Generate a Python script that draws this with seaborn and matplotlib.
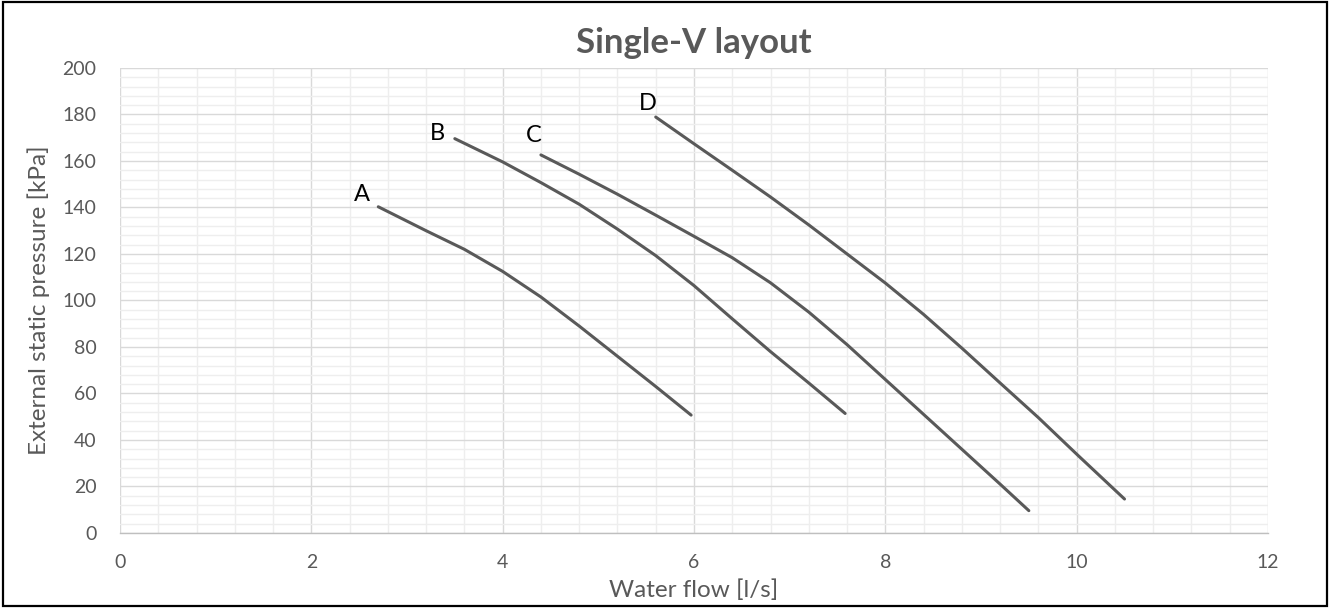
import numpy as np
import pandas as pd
import matplotlib
matplotlib.use("Agg")
import matplotlib.pyplot as plt
from matplotlib.patches import Rectangle
from matplotlib.ticker import MultipleLocator
import seaborn as sns

# pump curves: water flow [l/s] vs pressure [kPa]
flow_a = [2.7, 3.2, 3.6, 4.0, 4.4, 4.8, 5.2, 5.6, 5.97]
pres_a = [140.3, 130.0, 122.0, 112.5, 101.5, 89.0, 76.0, 63.0, 50.7]

flow_b = [3.5, 4.0, 4.4, 4.8, 5.2, 5.6, 6.0, 6.4, 6.8, 7.2, 7.58]
pres_b = [169.6, 159.6, 150.7, 141.4, 130.7, 119.3, 106.4, 92.1, 78.0, 64.5, 51.4]

flow_c = [4.4, 4.8, 5.2, 5.6, 6.0, 6.4, 6.8, 7.2, 7.6, 8.0, 8.4, 8.8, 9.2, 9.5]
pres_c = [162.6, 154.3, 145.7, 136.7, 127.6, 118.4, 107.6, 95.0, 81.0, 66.0, 51.0, 36.0, 21.0, 9.6]

flow_d = [5.6, 6.0, 6.4, 6.8, 7.2, 7.6, 8.0, 8.4, 8.8, 9.2, 9.6, 10.0, 10.5]
pres_d = [178.9, 167.4, 156.0, 144.5, 132.5, 120.0, 107.5, 94.0, 79.5, 64.5, 49.6, 33.9, 14.6]

curve_names = ["A", "B", "C", "D"]
curves = [(flow_a, pres_a), (flow_b, pres_b), (flow_c, pres_c), (flow_d, pres_d)]

rows = []
for name, (fx, py) in zip(curve_names, curves):
    for x, y in zip(fx, py):
        rows.append({"curve": name, "flow": x, "pressure": y})
df = pd.DataFrame(rows)

sns.set_theme(style="white")
plt.rcParams["font.family"] = ["Lato", "DejaVu Sans"]

txt = "#595959"
fig = plt.figure(figsize=(13.3, 6.08), dpi=100)
ax = fig.add_axes([0.0902, 0.1234, 0.8632, 0.7648])

sns.lineplot(data=df, x="flow", y="pressure", hue="curve",
             estimator=None, sort=False, legend=False, ax=ax,
             palette=["#595959"] * 4, linewidth=2.2)
for ln in ax.lines:
    ln.set_solid_joinstyle("round")
    ln.set_solid_capstyle("round")

ax.set_xlim(0, 12)
ax.set_ylim(0, 200)
ax.xaxis.set_major_locator(MultipleLocator(2))
ax.xaxis.set_minor_locator(MultipleLocator(0.4))
ax.yaxis.set_major_locator(MultipleLocator(20))
ax.yaxis.set_minor_locator(MultipleLocator(4))
ax.grid(which="minor", color="#eeeeee", linewidth=1.0)
ax.grid(which="major", color="#d9d9d9", linewidth=1.0)
ax.set_axisbelow(True)
for s in ["top", "right", "left"]:
    ax.spines[s].set_visible(False)
ax.spines["bottom"].set_color("#bfbfbf")
ax.spines["bottom"].set_linewidth(1.0)
ax.tick_params(which="both", length=0, labelsize=14, labelcolor=txt)
ax.tick_params(axis="y", pad=17)
ax.tick_params(axis="x", pad=15)

ax.set_xlabel("Water flow [l/s]", fontsize=17.5, color=txt, labelpad=6)
ax.set_ylabel("External static pressure [kPa]", fontsize=17.5, color=txt, labelpad=9)
ax.set_title("Single-V layout", fontsize=25, fontweight="bold", color=txt, pad=11)

offsets = [(-16, 12), (-17, 5), (-7, 19), (-8, 14)]
for name, (fx, py), off in zip(curve_names, curves, offsets):
    ax.annotate(name, xy=(fx[0], py[0]), xytext=off, textcoords="offset pixels",
                ha="center", va="center", fontsize=17, color="black")

fig.patches.append(Rectangle((0.002, 0.003), 0.996, 0.994, transform=fig.transFigure,
                             fill=False, edgecolor="black", linewidth=1.6))

fig.savefig("out.png", dpi=100)
